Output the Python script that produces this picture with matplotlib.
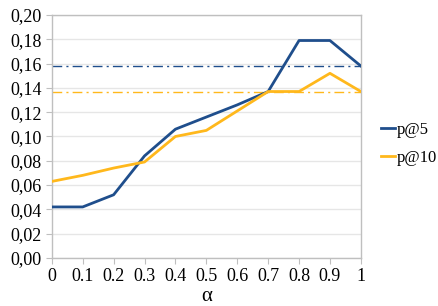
import matplotlib
matplotlib.use("Agg")
import matplotlib.pyplot as plt
from matplotlib import font_manager

# data
alpha = [0, 0.1, 0.2, 0.3, 0.4, 0.5, 0.6, 0.7, 0.8, 0.9, 1]
p5 = [0.042, 0.042, 0.052, 0.084, 0.106, 0.116, 0.126, 0.137, 0.179, 0.179, 0.158]
p10 = [0.063, 0.068, 0.074, 0.079, 0.100, 0.105, 0.121, 0.137, 0.137, 0.152, 0.137]
base_p5 = 0.158
base_p10 = 0.137
xticks = [0, 0.1, 0.2, 0.3, 0.4, 0.5, 0.6, 0.7, 0.8, 0.9, 1]
xlabels = ['0', '0.1', '0.2', '0.3', '0.4', '0.5', '0.6', '0.7', '0.8', '0.9', '1']

blue = '#1F4E8C'
orange = '#FFB81C'

# serif font like the reference
serif_path = font_manager.findfont('Liberation Serif')
tick_fp = font_manager.FontProperties(fname=serif_path, size=13)
leg_fp = font_manager.FontProperties(fname=serif_path, size=12)
lab_fp = font_manager.FontProperties(fname=serif_path, size=15)

fig = plt.figure(figsize=(4.39, 3.06), dpi=100)
ax = fig.add_axes([0.118, 0.157, 0.704, 0.794])

ax.plot(alpha, p5, color=blue, lw=2, label='p@5', zorder=3)
ax.plot(alpha, p10, color=orange, lw=2, label='p@10', zorder=3)
ax.axhline(base_p5, color=blue, lw=1, ls=(0, (7, 3, 1.5, 3)), zorder=2)
ax.axhline(base_p10, color=orange, lw=1, ls=(0, (7, 3, 1.5, 3)), zorder=2)

ax.set_xlim(0, 1)
ax.set_ylim(0, 0.2)
ax.set_xticks(xticks)
ax.set_xticklabels(xlabels)
ax.set_yticks([i * 0.02 for i in range(11)])
ax.set_yticklabels([f'{v * 0.02:.2f}'.replace('.', ',') for v in range(11)])

ax.grid(axis='y', color='#E6E6E6', lw=1)
ax.set_axisbelow(True)
for s in ax.spines.values():
    s.set_color('#BFBFBF')
    s.set_linewidth(1)
ax.tick_params(colors='#BFBFBF', labelcolor='black', length=4, direction='out')
ax.tick_params(axis='x', pad=3)
for lbl in ax.get_xticklabels() + ax.get_yticklabels():
    lbl.set_fontproperties(tick_fp)

ax.set_xlabel('α', fontproperties=lab_fp, labelpad=2)

ax.legend(loc='center left', bbox_to_anchor=(1.045, 0.47), frameon=False,
          borderaxespad=0, prop=leg_fp,
          handlelength=0.8, handletextpad=0.1, labelspacing=0.7)

fig.savefig('out.png', dpi=100)
